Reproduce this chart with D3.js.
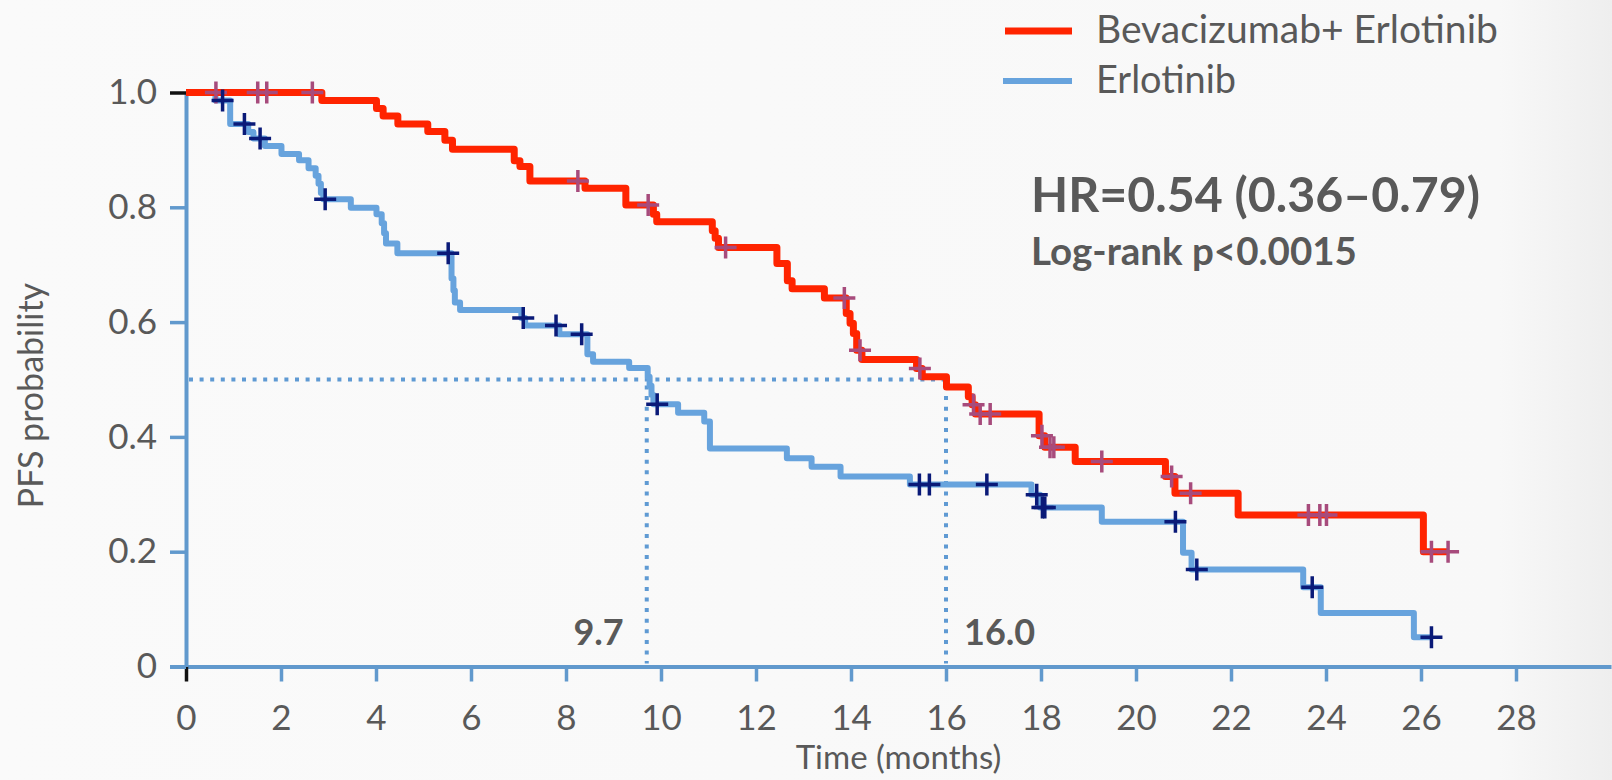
<!DOCTYPE html>
<html>
<head>
<meta charset="utf-8">
<script src="https://cdn.jsdelivr.net/npm/d3@7"></script>
<style>
  html, body { margin: 0; padding: 0; background: #fafafa; overflow: hidden; }
  svg { display: block; font-family: Lato, "Open Sans", sans-serif; }
</style>
</head>
<body>
<svg id="chart" width="1612" height="780"></svg>
<script>
// Kaplan–Meier progression-free survival, two arms

// Bevacizumab + Erlotinib: event times (months) and survival after each event
const comboTimes = [2.86, 4.01, 4.15, 4.46, 5.09, 5.45, 5.61, 6.91, 7.03, 7.24, 8.40, 9.26, 9.84, 9.91,
  11.08, 11.14, 11.21, 12.44, 12.66, 12.76, 13.44, 13.90, 13.98, 14.05, 14.12, 14.23, 15.38, 15.50,
  16.01, 16.47, 16.55, 16.62, 17.96, 18.08, 18.72, 20.62, 20.82, 22.15, 26.05];
const comboSurvival = [0.986, 0.972, 0.959, 0.945, 0.932, 0.917, 0.901, 0.881, 0.871, 0.846, 0.833, 0.804,
  0.788, 0.775, 0.759, 0.746, 0.730, 0.702, 0.672, 0.658, 0.642, 0.615, 0.598, 0.580, 0.551, 0.535,
  0.519, 0.505, 0.487, 0.470, 0.456, 0.440, 0.402, 0.382, 0.357, 0.331, 0.302, 0.264, 0.200];
const comboCensored = [0.63, 1.51, 1.70, 2.66, 8.25, 9.73, 11.36, 13.86, 14.19, 15.45, 16.58, 16.72, 16.93,
  18.02, 18.19, 18.27, 19.28, 20.75, 21.15, 23.63, 23.87, 24.01, 26.22, 26.57];

// Erlotinib alone
const monoTimes = [0.62, 0.93, 1.31, 1.42, 1.66, 2.01, 2.38, 2.58, 2.73, 2.79, 2.84, 2.89, 3.47, 4.01, 4.12,
  4.17, 4.21, 4.45, 5.59, 5.63, 5.66, 5.77, 7.06, 7.14, 7.86, 8.45, 8.57, 9.33, 9.72, 9.76, 9.80, 9.84,
  10.36, 10.91, 11.03, 12.65, 13.17, 13.78, 15.24, 17.80, 17.98, 19.28, 20.99, 21.17, 23.52, 23.89, 25.85];
const monoSurvival = [0.986, 0.945, 0.931, 0.920, 0.907, 0.893, 0.882, 0.868, 0.855, 0.841, 0.825, 0.814,
  0.799, 0.788, 0.772, 0.755, 0.737, 0.720, 0.676, 0.655, 0.634, 0.621, 0.607, 0.594, 0.579, 0.544, 0.531,
  0.520, 0.505, 0.489, 0.473, 0.457, 0.442, 0.427, 0.380, 0.363, 0.348, 0.331, 0.317, 0.299, 0.277, 0.252,
  0.198, 0.169, 0.138, 0.093, 0.051];
const monoCensored = [0.77, 1.23, 1.56, 2.93, 5.52, 7.10, 7.79, 8.33, 9.92, 15.44, 15.65, 16.86, 17.91,
  18.03, 18.08, 20.83, 21.28, 23.71, 26.22];

const xTicks = [0, 2, 4, 6, 8, 10, 12, 14, 16, 18, 20, 22, 24, 26, 28];
const yTicks = [0, 0.2, 0.4, 0.6, 0.8, 1.0];
const seriesNames = ["Bevacizumab+ Erlotinib", "Erlotinib"];
const medians = [9.7, 16.0];
const medianLabels = ["9.7", "16.0"];
const statsLines = ["HR=0.54 (0.36\u20130.79)", "Log-rank p<0.0015"];
const xTitle = "Time (months)";
const yTitle = "PFS probability";

const textColor = "#595959";
const axisColor = "#6199cd";
const comboColor = "#ff2400";
const monoColor = "#67a3dd";
const comboMark = "#a74b7c";
const monoMark = "#0a1a78";

const svg = d3.select("#chart");
const W = 1612, H = 780;

// slide background with a faint darker band at the right edge
const defs = svg.append("defs");
const bg = defs.append("linearGradient").attr("id", "bg").attr("x1", 0).attr("x2", 1).attr("y1", 0).attr("y2", 0);
bg.append("stop").attr("offset", "0%").attr("stop-color", "#fafafa");
bg.append("stop").attr("offset", "93%").attr("stop-color", "#f8f8f8");
bg.append("stop").attr("offset", "100%").attr("stop-color", "#eeeeee");
svg.append("rect").attr("width", W).attr("height", H).attr("fill", "url(#bg)");

const x = d3.scaleLinear().domain([0, 30]).range([186, 1611]);
const y = d3.scaleLinear().domain([0, 1]).range([666.5, 92.5]);

// survival value at time t from a step function
function survAt(times, surv, t) {
  let s = 1;
  for (let i = 0; i < times.length; i++) if (times[i] <= t + 1e-9) s = surv[i];
  return s;
}
function stepPoints(times, surv, end) {
  const pts = [[0, 1]];
  times.forEach((t, i) => pts.push([t, surv[i]]));
  pts.push([end, surv[surv.length - 1]]);
  return pts;
}

// axes
const xAxis = d3.axisBottom(x).tickValues(xTicks).tickSize(15).tickPadding(24).tickSizeOuter(0).tickFormat(d3.format("d"));
const gx = svg.append("g").attr("transform", `translate(0,${y(0)})`).call(xAxis);
const yAxis = d3.axisLeft(y).tickValues(yTicks).tickSize(16).tickPadding(13).tickSizeOuter(0)
  .tickFormat(d => d === 0 ? "0" : d.toFixed(1));
const gy = svg.append("g").attr("transform", `translate(${x(0)},0)`).call(yAxis);

[gx, gy].forEach(g => {
  g.select(".domain").attr("stroke", axisColor).attr("stroke-width", 4);
  g.selectAll(".tick line").attr("stroke", axisColor).attr("stroke-width", 3.5);
  g.selectAll(".tick text").attr("fill", textColor).style("font-size", "35px").style("font-family", "Lato, sans-serif");
});
gx.selectAll(".tick").filter(d => d === 0).select("line").attr("stroke", "#111");
gy.selectAll(".tick").filter(d => d === 1).select("line").attr("stroke", "#111");
gy.selectAll(".tick").filter(d => d === 0).select("line").attr("stroke-width", 4);

// axis titles
svg.append("text").attr("x", (x.range()[0] + x.range()[1]) / 2).attr("y", 769)
  .attr("text-anchor", "middle").attr("fill", textColor).style("font-size", "33px").text(xTitle);
svg.append("text").attr("transform", `translate(43,${(y(0) + y(1)) / 2 + 16}) rotate(-90)`)
  .attr("text-anchor", "middle").attr("fill", textColor).style("font-size", "34px").text(yTitle);

// median reference lines
const dotted = { stroke: "#5f9ad3", "stroke-width": 4, "stroke-dasharray": "4 6.6" };
function applyAttrs(sel, o) { Object.entries(o).forEach(([k, v]) => sel.attr(k, v)); return sel; }
applyAttrs(svg.append("line").attr("x1", x(0) + 3).attr("x2", x(medians[1])).attr("y1", y(0.5)).attr("y2", y(0.5)), dotted);
medians.forEach(m => {
  applyAttrs(svg.append("line").attr("x1", x(m)).attr("x2", x(m)).attr("y1", y(0.5) + 6).attr("y2", y(0) - 3), dotted);
});
svg.append("text").attr("x", x(medians[0]) - 23).attr("y", 645).attr("text-anchor", "end")
  .attr("fill", textColor).style("font-size", "36px").style("font-weight", 700).text(medianLabels[0]);
svg.append("text").attr("x", x(medians[1]) + 18).attr("y", 645).attr("text-anchor", "start")
  .attr("fill", textColor).style("font-size", "36px").style("font-weight", 700).text(medianLabels[1]);

// survival curves
const line = d3.line().x(d => x(d[0])).y(d => y(d[1])).curve(d3.curveStepAfter);
svg.append("path").datum(stepPoints(monoTimes, monoSurvival, d3.max(monoCensored)))
  .attr("d", line).attr("fill", "none").attr("stroke", monoColor).attr("stroke-width", 6)
  .attr("stroke-linejoin", "round");
svg.append("path").datum(stepPoints(comboTimes, comboSurvival, d3.max(comboCensored)))
  .attr("d", line).attr("fill", "none").attr("stroke", comboColor).attr("stroke-width", 7)
  .attr("stroke-linejoin", "round");

// censoring marks
function crosses(times, surv, cens, color) {
  const g = svg.append("g").attr("stroke", color).attr("stroke-width", 3.5).attr("fill", "none");
  cens.forEach(t => {
    const cx = x(t), cy = y(survAt(times, surv, t));
    g.append("path").attr("d", `M${cx - 11},${cy}H${cx + 11}M${cx},${cy - 11}V${cy + 11}`);
  });
}
crosses(comboTimes, comboSurvival, comboCensored, comboMark);
crosses(monoTimes, monoSurvival, monoCensored, monoMark);

// text fitted to a given width
function fit(sel, w) {
  const cur = parseFloat(sel.style("font-size"));
  const len = sel.node().getComputedTextLength();
  if (len > 0) sel.style("font-size", (cur * w / len).toFixed(2) + "px");
  return sel;
}

// legend
const legend = svg.append("g");
[[seriesNames[0], comboColor, 31, 7, 1005], [seriesNames[1], monoColor, 81, 6, 1003]].forEach(([name, col, ly, sw, lx]) => {
  legend.append("line").attr("x1", lx).attr("x2", 1072).attr("y1", ly).attr("y2", ly)
    .attr("stroke", col).attr("stroke-width", sw);
});
fit(legend.append("text").attr("x", 1096).attr("y", 43).attr("fill", textColor).style("font-size", "34px").text(seriesNames[0]), 402);
fit(legend.append("text").attr("x", 1096).attr("y", 93).attr("fill", textColor).style("font-size", "34px").text(seriesNames[1]), 140);

// statistics
fit(svg.append("text").attr("x", 1031).attr("y", 212).attr("fill", textColor).style("font-size", "40px")
  .style("font-weight", 700).text(statsLines[0]), 449);
fit(svg.append("text").attr("x", 1031).attr("y", 265).attr("fill", textColor).style("font-size", "28px")
  .style("font-weight", 700).text(statsLines[1]), 326);
</script>
</body>
</html>
